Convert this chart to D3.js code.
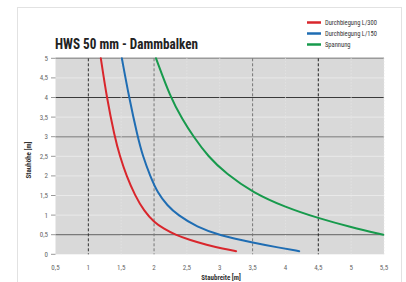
<!DOCTYPE html>
<html>
<head>
<meta charset="utf-8">
<script src="https://cdn.jsdelivr.net/npm/d3@7"></script>
<style>
  body { margin: 0; background: #fff; }
  text { font-family: "Liberation Sans Narrow", "Roboto Condensed", "Liberation Sans", Arial, sans-serif; }
</style>
</head>
<body>
<svg width="406" height="282"></svg>
<script>
// values
const title = 'HWS 50 mm - Dammbalken';
const seriesNames = ['Durchbiegung L/300', 'Durchbiegung L/150', 'Spannung'];
const colors = ['#d9262c', '#1f6db3', '#179a4c'];

const redX = [1.19, 1.28, 1.40, 1.48, 1.58, 1.71, 1.85, 2.0, 2.15, 2.32, 2.55, 2.8, 3.05, 3.25];
const redY = [5, 4, 3, 2.5, 2.0, 1.5, 1.1, 0.82, 0.65, 0.5, 0.36, 0.24, 0.14, 0.08];
const blueX = [1.51, 1.62, 1.75, 1.83, 1.94, 2.06, 2.2, 2.36, 2.65, 3.0, 3.5, 3.9, 4.21];
const blueY = [5, 4, 3, 2.5, 2.0, 1.55, 1.25, 1.0, 0.7, 0.48, 0.3, 0.17, 0.08];
const greenX = [2.03, 2.25, 2.43, 2.6, 2.82, 3.1, 3.5, 4.0, 4.5, 5.0, 5.49];
const greenY = [5, 4, 3.45, 3.0, 2.5, 2.05, 1.58, 1.2, 0.92, 0.69, 0.5];

const xTicks = [0.5, 1, 1.5, 2, 2.5, 3, 3.5, 4, 4.5, 5, 5.5];
const yTicks = [0, 0.5, 1, 1.5, 2, 2.5, 3, 3.5, 4, 4.5, 5];

const svg = d3.select('svg');

// outer frame
svg.append('rect')
  .attr('x', 17.5).attr('y', 7.5)
  .attr('width', 384).attr('height', 290)
  .attr('fill', 'none').attr('stroke', '#e2e2e2');

const x = d3.scaleLinear().domain([0.5, 5.5]).range([55.5, 384]);
const y = d3.scaleLinear().domain([0, 5]).range([254.3, 58.3]);

// plot background
svg.append('rect')
  .attr('x', x(0.5)).attr('y', y(5))
  .attr('width', x(5.5) - x(0.5)).attr('height', y(0) - y(5))
  .attr('fill', '#d9d9d9');

// horizontal grid
const hStyle = (d) => {
  if (d === 4) return { c: '#3a3a3a', w: 1.2 };
  if (d === 3 || d === 5) return { c: '#9a9a9a', w: 1.4 };
  if (d === 0.5) return { c: '#7a7a7a', w: 1.2 };
  if (d === 0) return null;
  return { c: '#e9e9e9', w: 1 };
};
yTicks.forEach((d) => {
  const s = hStyle(d);
  if (!s) return;
  svg.append('line')
    .attr('x1', x(0.5)).attr('x2', x(5.5))
    .attr('y1', y(d)).attr('y2', y(d))
    .attr('stroke', s.c).attr('stroke-width', s.w);
});

// vertical grid
const dashed = { 1: '#333', 2: '#777', 3.5: '#777', 4.5: '#222' };
xTicks.forEach((d) => {
  if (d === 0.5) return;
  const c = dashed[d];
  svg.append('line')
    .attr('x1', x(d)).attr('x2', x(d))
    .attr('y1', y(5)).attr('y2', y(0))
    .attr('stroke', c || '#e6e6e6')
    .attr('stroke-width', 1)
    .attr('stroke-dasharray', c ? '3,2' : '1,2');
});

// y axis ticks and labels
const fmt = (d) => String(d).replace('.', ',');
const yAxis = svg.append('g');
yTicks.forEach((d) => {
  yAxis.append('line')
    .attr('x1', 51).attr('x2', x(0.5))
    .attr('y1', y(d)).attr('y2', y(d))
    .attr('stroke', '#999');
  yAxis.append('text')
    .attr('x', 48).attr('y', y(d) + 2.5)
    .attr('text-anchor', 'end')
    .attr('font-size', 7).attr('fill', '#666')
    .text(fmt(d));
});

// x axis labels
xTicks.forEach((d) => {
  svg.append('text')
    .attr('x', x(d)).attr('y', 270)
    .attr('text-anchor', 'middle')
    .attr('font-size', 7).attr('fill', '#666')
    .text(fmt(d));
});

svg.append('text')
  .attr('x', 221).attr('y', 280)
  .attr('text-anchor', 'middle')
  .attr('font-size', 7).attr('font-weight', 'bold').attr('fill', '#333')
  .text('Staubreite [m]');

svg.append('text')
  .attr('transform', 'translate(31,160) rotate(-90)')
  .attr('text-anchor', 'middle')
  .attr('font-size', 7).attr('font-weight', 'bold').attr('fill', '#333')
  .text('Stauhöhe [m]');

// title
svg.append('text')
  .attr('x', 55).attr('y', 49)
  .attr('font-size', 14).attr('font-weight', 'bold').attr('fill', '#222')
  .attr('textLength', 143).attr('lengthAdjust', 'spacingAndGlyphs')
  .text(title);

// curves
const series = [
  { xs: redX, ys: redY },
  { xs: blueX, ys: blueY },
  { xs: greenX, ys: greenY }
];
const line = d3.line()
  .x((d) => x(d[0]))
  .y((d) => y(d[1]))
  .curve(d3.curveBasis);

series.forEach((s, i) => {
  svg.append('path')
    .datum(s.xs.map((v, j) => [v, s.ys[j]]))
    .attr('d', line)
    .attr('fill', 'none')
    .attr('stroke', colors[i])
    .attr('stroke-width', 2)
    .attr('stroke-linecap', 'round');
});

// legend
const legend = svg.append('g');
seriesNames.forEach((name, i) => {
  const ly = 22.5 + i * 11;
  legend.append('line')
    .attr('x1', 307).attr('x2', 321)
    .attr('y1', ly).attr('y2', ly)
    .attr('stroke', colors[i]).attr('stroke-width', 2.5);
  legend.append('text')
    .attr('x', 325).attr('y', ly + 2.5)
    .attr('font-size', 6.5).attr('fill', '#333')
    .text(name);
});
</script>
</body>
</html>
